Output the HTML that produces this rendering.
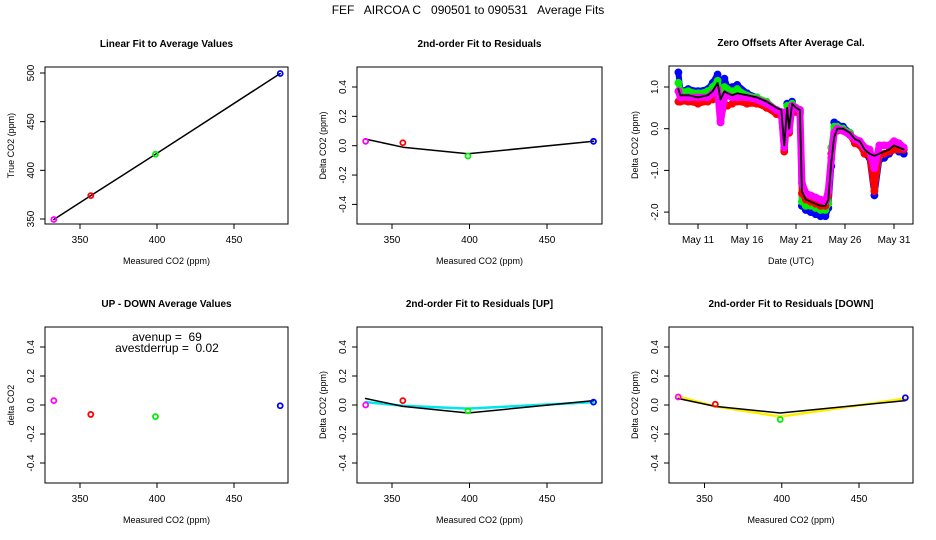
<!DOCTYPE html>
<html><head><meta charset="utf-8"><style>
html,body{margin:0;padding:0;background:#fff}
svg{display:block;font-family:"Liberation Sans",sans-serif}
text{white-space:pre}
</style></head><body>
<svg id="fig" width="936" height="540" viewBox="0 0 936 540">
<text x="468" y="14" text-anchor="middle" font-size="12" xml:space="preserve">FEF   AIRCOA C   090501 to 090531   Average Fits</text>
</svg>
<script>
// ---- data ----
const gasMeasured = [333, 357, 399, 480];
const gasTrue = [349.5, 374, 416.5, 499.5];
const gasColors = ['#ff00ff', '#ff0000', '#00ee00', '#0000ff'];
const resid = [0.03, 0.02, -0.07, 0.03];
const fitLine = [0.045, -0.01, -0.055, 0.03];
const upDown = [0.03, -0.065, -0.08, -0.005];
const residUp = [0.0, 0.03, -0.04, 0.02];
const fitUp = [0.02, -0.005, -0.025, 0.02];
const residDown = [0.055, 0.005, -0.10, 0.05];
const fitDown = [0.06, -0.01, -0.08, 0.045];
const xTicks = [350, 400, 450];
const resTicks = [-0.4, -0.2, 0.0, 0.2, 0.4];
const trueTicks = [350, 400, 450, 500];
const zeroTicks = [-2.0, -1.0, 0.0, 1.0];
const dateTicks = [11, 16, 21, 26, 31];
const dateLabels = ['May 11', 'May 16', 'May 21', 'May 26', 'May 31'];
const days = [9,9.2,10,11,12,12.5,13,13.3,13.7,14,14.5,15,16,17,18,19,19.5,19.8,20.1,20.3,20.6,21,21.4,21.6,22,22.5,23,23.5,24,24.3,24.6,24.9,25.2,25.8,26.5,27,27.5,28,28.5,29,29.5,30,30.5,31,31.5,32];
const zMean = [0.95,0.8,0.8,0.75,0.8,0.9,1.1,0.7,0.9,0.85,0.8,0.85,0.8,0.75,0.65,0.5,0.45,-0.4,0.5,0.0,0.6,0.5,0.45,-1.5,-1.7,-1.75,-1.8,-1.85,-1.85,-1.7,-0.8,-0.2,0.0,0.0,-0.1,-0.25,-0.3,-0.5,-0.6,-0.65,-0.6,-0.55,-0.5,-0.4,-0.45,-0.5];
const zBlue = [1.35,0.9,0.95,0.9,0.95,1.1,1.3,0.8,1.2,1.0,1.0,1.05,0.85,0.75,0.6,0.4,0.3,-0.5,0.6,0.1,0.65,0.45,0.4,-1.85,-1.95,-2.0,-2.05,-2.1,-2.1,-1.9,-0.9,0.15,0.1,0.05,-0.1,-0.3,-0.35,-0.6,-0.7,-1.6,-0.75,-0.7,-0.6,-0.5,-0.55,-0.6];
const zGreen = [1.1,0.9,0.9,0.85,0.9,1.0,1.15,0.75,1.0,0.95,0.9,0.95,0.8,0.75,0.65,0.45,0.4,-0.45,0.55,0.05,0.6,0.5,0.45,-1.75,-1.85,-1.85,-1.9,-1.95,-1.95,-1.8,-0.45,0.05,0.05,0.0,-0.1,-0.3,-0.3,-0.55,-0.6,-1.45,-0.65,-0.6,-0.55,-0.5,-0.5,-0.5];
const zRed = [0.65,0.65,0.65,0.6,0.65,0.7,0.8,0.2,0.6,0.55,0.6,0.65,0.6,0.6,0.5,0.35,0.3,-0.55,0.1,-0.1,0.5,0.4,0.35,-1.55,-1.7,-1.75,-1.8,-1.85,-1.85,-1.6,-0.6,-0.1,-0.05,-0.05,-0.15,-0.35,-0.4,-0.6,-0.65,-1.5,-0.6,-0.6,-0.55,-0.5,-0.5,-0.5];
const zMagenta = [0.9,0.75,0.75,0.75,0.75,0.85,0.95,0.15,0.8,0.8,0.75,0.75,0.75,0.7,0.6,0.45,0.4,-0.45,0.4,-0.05,0.55,0.5,0.45,-1.3,-1.55,-1.6,-1.65,-1.7,-1.75,-1.5,-0.7,-0.1,0.0,-0.05,-0.15,-0.25,-0.3,-0.45,-0.5,-0.95,-0.4,-0.4,-0.4,-0.3,-0.35,-0.45];

const NS = 'http://www.w3.org/2000/svg';
const svg = document.getElementById('fig');
function el(tag, attrs, parent) {
  const e = document.createElementNS(NS, tag);
  for (const k in attrs) e.setAttribute(k, attrs[k]);
  (parent || svg).appendChild(e);
  return e;
}
function lin(d0, p0, d1, p1) { return v => p0 + (v - d0) * (p1 - p0) / (d1 - d0); }

function panel(o) {
  const g = el('g', {});
  
  
  const t = el('text', {x: (o.l + o.r) / 2, y: o.t - 20, 'text-anchor': 'middle', 'font-size': 10, 'font-weight': 'bold'}, g);
  t.textContent = o.title;
  
  
  const box = el('rect', {x: o.l, y: o.t, width: o.r - o.l, height: o.b - o.t, fill: 'none', stroke: '#000', 'stroke-width': 1}, g);
  
  
  o.xt.forEach((v, i) => {
    const x = o.xs(v);
    el('line', {x1: x, x2: x, y1: o.b, y2: o.b + 5, stroke: '#000'}, g);
    const tl = el('text', {x: x, y: o.b + 19, 'text-anchor': 'middle', 'font-size': 10}, g);
    tl.textContent = o.xl ? o.xl[i] : v;
    
    
  });
  o.yt.forEach(v => {
    const y = o.ys(v);
    el('line', {x1: o.l - 5, x2: o.l, y1: y, y2: y, stroke: '#000'}, g);
    const tx = o.l - 11;
    const tl = el('text', {x: tx, y: y, 'text-anchor': 'middle', 'font-size': 10, transform: `rotate(-90 ${tx} ${y})`}, g);
    tl.textContent = o.yfmt(v);
    
    
  });
  const xt = el('text', {x: (o.l + o.r) / 2, y: o.b + 40, 'text-anchor': 'middle', 'font-size': 9}, g);
  xt.textContent = o.xlab;
  
  
  const yx = o.l - 31, yy = (o.t + o.b) / 2;
  const yt = el('text', {x: yx, y: yy, 'text-anchor': 'middle', 'font-size': 9, transform: `rotate(-90 ${yx} ${yy})`}, g);
  yt.textContent = o.ylab;
  
  
  return g;
}
function poly(g, xs, ys, xv, yv, color, w, name) {
  const pts = xv.map((v, i) => xs(v).toFixed(1) + ',' + ys(yv[i]).toFixed(1)).join(' ');
  const p = el('polyline', {points: pts, fill: 'none', stroke: color, 'stroke-width': w, 'stroke-linejoin': 'round', 'stroke-linecap': 'round'}, g);
  
  
}
function pts(g, xs, ys, xv, yv, colors, name, r) {
  xv.forEach((v, i) => {
    const c = el('circle', {cx: xs(v), cy: ys(yv[i]), r: r || 2.5, fill: 'none', stroke: Array.isArray(colors) ? colors[i] : colors, 'stroke-width': 1.8}, g);
    
    
  });
}
const f0 = v => String(v);
const f1 = v => v.toFixed(1);

// Panel 1
{
  const xs = lin(350, 80, 450, 234), ys = lin(350, 219, 500, 73);
  const g = panel({name: 'linear-fit-panel', title: 'Linear Fit to Average Values', l: 45, r: 288, t: 67, b: 224, xs, ys, xt: xTicks, yt: trueTicks, yfmt: f0, xlab: 'Measured CO2 (ppm)', ylab: 'True CO2 (ppm)'});
  poly(g, xs, ys, gasMeasured, gasTrue, '#000', 1.5, 'fit-line');
  pts(g, xs, ys, gasMeasured, gasTrue, gasColors, 'gas-point');
}
// Panel 2
{
  const xs = lin(350, 392, 450, 547), ys = lin(0, 145.7, 0.4, 87);
  const g = panel({name: 'residuals-panel', title: '2nd-order Fit to Residuals', l: 357, r: 602, t: 67, b: 224, xs, ys, xt: xTicks, yt: resTicks, yfmt: f1, xlab: 'Measured CO2 (ppm)', ylab: 'Delta CO2 (ppm)'});
  poly(g, xs, ys, gasMeasured, fitLine, '#000', 1.5, 'fit-line');
  pts(g, xs, ys, gasMeasured, resid, gasColors, 'residual-point');
}
// Panel 3
{
  const xs = lin(11, 698, 31, 894), ys = lin(0, 128.7, 1, 87);
  const g = panel({name: 'zero-offsets-panel', title: 'Zero Offsets After Average Cal.', l: 669, r: 913, t: 66, b: 224, xs, ys, xt: dateTicks, xl: dateLabels, yt: zeroTicks, yfmt: f1, xlab: 'Date (UTC)', ylab: 'Delta CO2 (ppm)'});
  poly(g, xs, ys, days, zBlue, '#0000ff', 6, 'blue-series');
  pts(g, xs, ys, days, zBlue, '#0000ff', 'blue-point', 3);
  poly(g, xs, ys, days, zGreen, '#00ee00', 6, 'green-series');
  pts(g, xs, ys, days, zGreen, '#00ee00', 'green-point', 3);
  poly(g, xs, ys, days, zRed, '#ff0000', 6, 'red-series');
  pts(g, xs, ys, days, zRed, '#ff0000', 'red-point', 3);
  poly(g, xs, ys, days, zMagenta, '#ff00ff', 7, 'magenta-series');
  pts(g, xs, ys, days, zMagenta, '#ff00ff', 'magenta-point', 3);
  poly(g, xs, ys, days, zMean, '#000', 1.8, 'mean-series');
}
// Panel 4
{
  const xs = lin(350, 80, 450, 234), ys = lin(0, 405, 0.4, 347);
  const g = panel({name: 'up-down-panel', title: 'UP - DOWN Average Values', l: 45, r: 288, t: 327, b: 483, xs, ys, xt: xTicks, yt: resTicks, yfmt: f1, xlab: 'Measured CO2 (ppm)', ylab: 'delta CO2'});
  pts(g, xs, ys, gasMeasured, upDown, gasColors, 'up-down-point');
  const a = el('text', {x: 167, y: 341, 'text-anchor': 'middle', 'font-size': 12, 'xml:space': 'preserve'}, g);
  a.textContent = 'avenup =  69';
  
  
  const b = el('text', {x: 167, y: 352, 'text-anchor': 'middle', 'font-size': 12}, g);
  b.textContent = 'avestderrup =  0.02';
  
  
}
// Panel 5
{
  const xs = lin(350, 392, 450, 547), ys = lin(0, 405, 0.4, 347);
  const g = panel({name: 'residuals-up-panel', title: '2nd-order Fit to Residuals [UP]', l: 357, r: 602, t: 327, b: 483, xs, ys, xt: xTicks, yt: resTicks, yfmt: f1, xlab: 'Measured CO2 (ppm)', ylab: 'Delta CO2 (ppm)'});
  poly(g, xs, ys, gasMeasured, fitUp, '#00e5ee', 2.5, 'up-fit-line');
  poly(g, xs, ys, gasMeasured, fitLine, '#000', 1.5, 'fit-line');
  pts(g, xs, ys, gasMeasured, residUp, gasColors, 'residual-up-point');
}
// Panel 6
{
  const xs = lin(350, 704.5, 450, 859), ys = lin(0, 405, 0.4, 347);
  const g = panel({name: 'residuals-down-panel', title: '2nd-order Fit to Residuals [DOWN]', l: 669, r: 913, t: 327, b: 483, xs, ys, xt: xTicks, yt: resTicks, yfmt: f1, xlab: 'Measured CO2 (ppm)', ylab: 'Delta CO2 (ppm)'});
  poly(g, xs, ys, gasMeasured, fitDown, '#ffee00', 2.5, 'down-fit-line');
  poly(g, xs, ys, gasMeasured, fitLine, '#000', 1.5, 'fit-line');
  pts(g, xs, ys, gasMeasured, residDown, gasColors, 'residual-down-point');
}
</script>
</body></html>
